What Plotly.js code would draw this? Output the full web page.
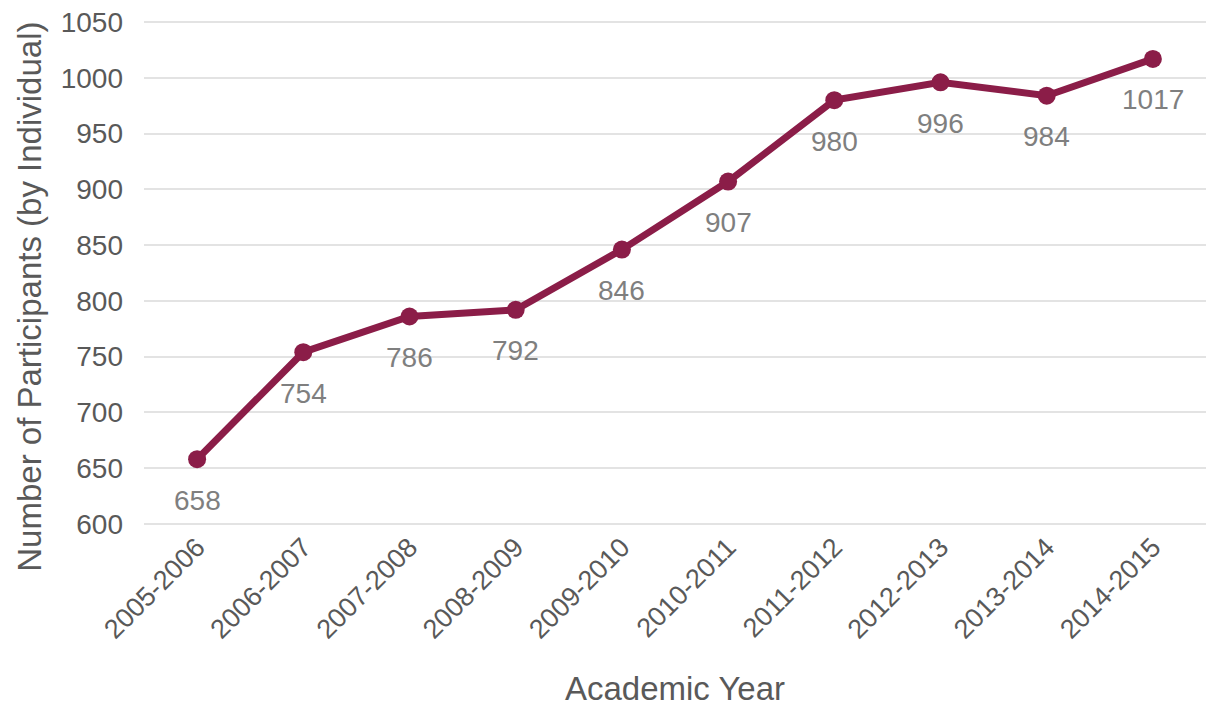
<!DOCTYPE html>
<html>
<head>
<meta charset="utf-8">
<script src="https://cdn.plot.ly/plotly-3.0.1.min.js"></script>
<style>html,body{margin:0;padding:0;background:#fff;}#chart{width:1206px;height:707px;}</style>
</head>
<body>
<div id="chart"></div>
<script>
const years = ["2005-2006","2006-2007","2007-2008","2008-2009","2009-2010","2010-2011","2011-2012","2012-2013","2013-2014","2014-2015"];
const participants = [658, 754, 786, 792, 846, 907, 980, 996, 984, 1017];
const yTicks = [600, 650, 700, 750, 800, 850, 900, 950, 1000, 1050];
const xTitle = "Academic Year";
const yTitle = "Number of Participants (by Individual)";

const lineColor = "#8B1D48";
const fontFamily = "'Liberation Sans', Arial, sans-serif";

const trace = {
  x: years,
  y: participants,
  type: "scatter",
  mode: "lines+markers",
  line: {color: lineColor, width: 7},
  marker: {color: lineColor, size: 18},
  hoverinfo: "skip"
};

const annotations = years.map((yr, i) => ({
  x: yr,
  y: participants[i],
  text: String(participants[i]),
  showarrow: false,
  yshift: -41,
  font: {family: fontFamily, size: 28, color: "#7F7F7F"}
}));

annotations.push({
  xref: "paper", yref: "paper",
  x: -0.1073, y: 0.453,
  xanchor: "center", yanchor: "middle",
  textangle: -90,
  text: yTitle,
  showarrow: false,
  font: {family: fontFamily, size: 33, color: "#595959"}
});

const layout = {
  width: 1206,
  height: 707,
  margin: {l: 144, r: 0, t: 21, b: 182},
  paper_bgcolor: "#fff",
  plot_bgcolor: "#fff",
  showlegend: false,
  font: {family: fontFamily, color: "#595959"},
  xaxis: {
    type: "category",
    tickangle: -45,
    tickfont: {size: 27, color: "#595959"},
    showgrid: false,
    showline: false,
    ticks: "",
    zeroline: false,
    automargin: false,
    title: {text: xTitle, font: {size: 33, color: "#595959"}, standoff: 36},
    range: [-0.5, 9.5]
  },
  yaxis: {
    range: [599, 1051],
    tickvals: yTicks,
    ticktext: yTicks.map(String),
    tickfont: {size: 28, color: "#595959"},
    ticklabelstandoff: 20,
    gridcolor: "#E3E3E3",
    gridwidth: 2,
    zeroline: false,
    showline: false,
    ticks: "",
    automargin: false
  },
  annotations: annotations
};

Plotly.newPlot("chart", [trace], layout, {displayModeBar: false, staticPlot: true});
</script>
</body>
</html>
